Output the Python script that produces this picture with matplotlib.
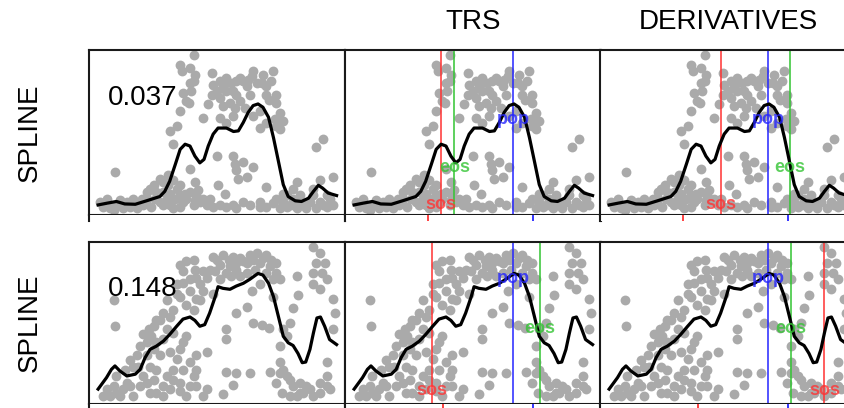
import matplotlib.pyplot as plt

plt.rcParams['font.family'] = ['Liberation Sans', 'DejaVu Sans']

# =========================
# data (day of year, index value)
# =========================
col_titles = ["", "TRS", "DERIVATIVES"]
row_labels = ["SPLINE", "SPLINE"]
row_scores = ["0.037", "0.148"]

# row 1 fitted curve
r1_fit_day = [13, 25, 39, 51, 66, 82, 101, 108, 115, 123, 130, 137, 144, 151, 158, 164,
              170, 177, 184, 196, 206, 213, 220, 227, 234, 241, 248, 256, 263, 270, 277,
              284, 294, 303, 313, 320, 327, 333, 341, 353]
r1_fit_val = [0.061, 0.071, 0.082, 0.067, 0.065, 0.086, 0.112, 0.143, 0.204, 0.306, 0.398,
              0.429, 0.418, 0.357, 0.316, 0.337, 0.418, 0.490, 0.527, 0.527, 0.506, 0.510,
              0.561, 0.622, 0.663, 0.673, 0.653, 0.592, 0.469, 0.327, 0.184, 0.112, 0.086,
              0.082, 0.102, 0.143, 0.180, 0.163, 0.133, 0.118]

# row 1 observations
r1_obs_day = [149, 130, 144, 132, 149, 146, 139, 134, 142, 175, 196, 210, 220, 234, 248, 263,
              246, 225, 210, 196, 182, 187, 201, 215, 229, 253, 256, 267, 272, 265, 244, 244,
              272, 163, 187, 196, 206, 125, 115, 120, 182, 206, 208, 220, 210, 225, 213, 234,
              253, 184, 194, 144, 37, 334, 324, 348, 329, 296, 291, 320,
              16, 20, 30, 39, 49, 58, 68, 77, 82, 87, 92, 101, 106, 96, 111, 115, 125, 130,
              134, 139, 144, 149, 153, 158, 168, 172, 101, 89, 115, 120, 187, 196, 206, 210,
              220, 229, 244, 253, 267, 277, 286, 296, 305, 315, 324, 334, 343, 282, 272, 320,
              291, 301, 339, 73, 35, 156, 130, 106, 113,
              177, 187, 191, 203, 206, 215, 227, 232, 239, 253, 260, 267, 175, 170, 191, 208,
              222, 234, 253, 267, 277, 151, 144, 130,
              25, 44, 54, 63, 75, 94, 106, 113, 123, 130, 137, 151, 163, 177, 244, 263, 282,
              291, 301, 310, 329, 339, 348, 277, 82, 120, 151]
r1_obs_val = [0.97, 0.91, 0.89, 0.87, 0.81, 0.75, 0.69, 0.74, 0.68, 0.86, 0.83, 0.81, 0.81,
              0.87, 0.85, 0.87, 0.80, 0.78, 0.73, 0.75, 0.75, 0.71, 0.68, 0.69, 0.73, 0.73,
              0.70, 0.68, 0.62, 0.58, 0.63, 0.53, 0.52, 0.59, 0.59, 0.56, 0.60, 0.54, 0.51,
              0.43, 0.36, 0.36, 0.31, 0.32, 0.27, 0.23, 0.22, 0.29, 0.17, 0.18, 0.13, 0.28,
              0.26, 0.46, 0.41, 0.23, 0.21, 0.20, 0.16, 0.16,
              0.08, 0.05, 0.04, 0.06, 0.04, 0.05, 0.04, 0.06, 0.10, 0.16, 0.18, 0.22, 0.20,
              0.14, 0.10, 0.06, 0.16, 0.12, 0.08, 0.10, 0.14, 0.06, 0.12, 0.08, 0.06, 0.10,
              0.08, 0.05, 0.13, 0.04, 0.06, 0.05, 0.06, 0.04, 0.08, 0.06, 0.08, 0.05, 0.10,
              0.08, 0.06, 0.04, 0.06, 0.08, 0.04, 0.06, 0.10, 0.12, 0.04, 0.12, 0.10, 0.12,
              0.05, 0.08, 0.03, 0.15, 0.18, 0.14, 0.24,
              0.79, 0.81, 0.78, 0.80, 0.75, 0.83, 0.82, 0.84, 0.80, 0.78, 0.81, 0.73, 0.73,
              0.67, 0.66, 0.65, 0.65, 0.60, 0.56, 0.54, 0.57, 0.85, 0.80, 0.63,
              0.10, 0.09, 0.08, 0.10, 0.10, 0.10, 0.06, 0.18, 0.10, 0.05, 0.13, 0.09, 0.10,
              0.05, 0.05, 0.07, 0.05, 0.06, 0.08, 0.04, 0.08, 0.12, 0.06, 0.13, 0.14, 0.21,
              0.20]

# row 2 fitted curve
r2_fit_day = [13, 25, 32, 37, 44, 54, 66, 73, 80, 87, 96, 106, 115, 125, 134, 144, 151, 158,
              165, 172, 180, 184, 191, 201, 210, 220, 229, 241, 248, 256, 263, 270, 277, 284,
              291, 298, 304, 309, 315, 320, 325, 330, 336, 343, 353]
r2_fit_val = [0.092, 0.163, 0.214, 0.235, 0.204, 0.173, 0.184, 0.214, 0.286, 0.337, 0.357,
              0.388, 0.429, 0.480, 0.524, 0.537, 0.516, 0.480, 0.490, 0.561, 0.663, 0.724,
              0.714, 0.708, 0.728, 0.745, 0.769, 0.806, 0.796, 0.745, 0.663, 0.541, 0.418,
              0.378, 0.361, 0.312, 0.255, 0.259, 0.337, 0.439, 0.531, 0.537, 0.480, 0.398,
              0.367]

# row 2 observations
r2_obs_day = [130, 139, 149, 134, 151, 125, 144, 158, 144, 177, 191, 206, 215, 229, 239, 253,
              267, 187, 201, 210, 225, 244, 258, 267, 196, 215, 272, 172, 168, 163, 158, 177,
              153, 130, 139, 111, 120, 106, 101, 92, 85, 77, 82, 73, 68, 70, 58, 51, 39, 35,
              25, 20, 30, 39, 49, 58, 63, 73, 82, 92, 96, 106, 111, 120, 125, 130, 134, 139,
              101, 115, 106, 96, 87, 115, 130, 144, 149, 153, 168, 168, 163, 139, 130, 153,
              196, 196, 210, 225, 196, 210, 229, 206, 191, 246, 256, 234, 258, 267, 272, 277,
              282, 291, 301, 310, 320, 329, 339, 343, 339, 315, 296, 37, 35, 320, 329, 336,
              332, 320, 329, 348, 351, 296, 298, 291, 286, 277, 348, 263, 244, 232,
              182, 199, 220, 234, 248, 260, 180, 203, 225, 237, 253, 263, 187, 210, 134, 153,
              163, 125, 149, 115, 96, 89, 96, 111, 120, 82, 92, 63, 77, 54, 44, 87, 106, 120,
              144, 134, 153, 272, 286, 305, 329, 286, 301, 339, 275, 272, 282, 324, 339, 320]
r2_obs_val = [0.86, 0.88, 0.89, 0.82, 0.83, 0.74, 0.70, 0.74, 0.77, 0.91, 0.92, 0.91, 0.90,
              0.92, 0.93, 0.92, 0.87, 0.86, 0.85, 0.83, 0.87, 0.87, 0.85, 0.81, 0.81, 0.79,
              0.77, 0.83, 0.78, 0.70, 0.64, 0.68, 0.65, 0.66, 0.61, 0.64, 0.58, 0.56, 0.52,
              0.48, 0.46, 0.43, 0.38, 0.36, 0.30, 0.23, 0.27, 0.21, 0.17, 0.11, 0.09, 0.05,
              0.05, 0.07, 0.09, 0.11, 0.05, 0.11, 0.13, 0.15, 0.07, 0.11, 0.17, 0.21, 0.28,
              0.34, 0.38, 0.42, 0.30, 0.32, 0.40, 0.21, 0.23, 0.09, 0.13, 0.26, 0.17, 0.30,
              0.32, 0.09, 0.05, 0.05, 0.08, 0.11, 0.46, 0.40, 0.56, 0.60, 0.20, 0.19, 0.19,
              0.12, 0.06, 0.49, 0.47, 0.50, 0.20, 0.13, 0.26, 0.21, 0.17, 0.11, 0.07, 0.11,
              0.05, 0.13, 0.11, 0.09, 0.26, 0.09, 0.05, 0.48, 0.64, 0.97, 0.93, 0.87, 0.81,
              0.74, 0.71, 0.65, 0.56, 0.79, 0.67, 0.59, 0.50, 0.46, 0.46, 0.66, 0.74, 0.70,
              0.89, 0.89, 0.88, 0.89, 0.90, 0.89, 0.82, 0.79, 0.81, 0.83, 0.81, 0.77, 0.77,
              0.87, 0.75, 0.78, 0.82, 0.68, 0.58, 0.54, 0.52, 0.42, 0.38, 0.46, 0.44, 0.30,
              0.34, 0.23, 0.17, 0.13, 0.05, 0.07, 0.05, 0.15, 0.11, 0.21, 0.21, 0.19, 0.15,
              0.07, 0.07, 0.05, 0.13, 0.17, 0.07, 0.36, 0.42, 0.87, 0.77, 0.81]

# phenology dates per row: [TRS, DERIVATIVES], each (sos, pop, eos)
pheno_dates = [[(137, 240, 156), (173, 240, 271)],
               [(124, 240, 278), (320, 240, 272)]]
# label heights (sos, pop, eos) per row
label_vals = [(0.061, 0.58, 0.286), (0.082, 0.776, 0.463)]
# dates of next (hidden) row peeking below each row: (sos, pop)
below_dates = [(118, 268), (140, 268)]

fits = [(r1_fit_day, r1_fit_val), (r2_fit_day, r2_fit_val)]
obs = [(r1_obs_day, r1_obs_val), (r2_obs_day, r2_obs_val)]

# =========================
# layout (pixels of 845x408 figure)
# =========================
W, H = 845.0, 408.0
col_left = [89, 345, 600]
col_w = 256
row_top = [50, 242]
row_h = [165, 162]
strip_h = 6

names = ["sos", "pop", "eos"]
colors = {"sos": "#ff3333", "pop": "#2525ff", "eos": "#33c433"}

fig = plt.figure(figsize=(W / 100, H / 100), dpi=100)

for r in range(2):
    for c in range(3):
        left = col_left[c] / W
        bottom = (H - row_top[r] - row_h[r]) / H
        ax = fig.add_axes([left, bottom, col_w / W, row_h[r] / H])
        ax.scatter(obs[r][0], obs[r][1], s=50, color="#aaaaaa", lw=0, zorder=1)
        if c > 0:
            for name, d in zip(names, pheno_dates[r][c - 1]):
                ax.axvline(d, color=colors[name], lw=1.3, alpha=0.85, zorder=2)
        ax.plot(fits[r][0], fits[r][1], color="black", lw=2.3, zorder=3,
                solid_joinstyle="round")
        if c > 0:
            for name, d, v in zip(names, pheno_dates[r][c - 1], label_vals[r]):
                ax.text(d, v, name, color=colors[name], fontsize=13, fontweight="bold",
                        ha="center", va="center", alpha=0.8, zorder=4)
        if c == 0:
            ax.text(0.074, 0.71, row_scores[r], transform=ax.transAxes,
                    fontsize=20, ha="left", va="center")
        ax.set_xlim(0, 365)
        ax.set_ylim(0, 1)
        ax.set_xticks([])
        ax.set_yticks([])
        for sp in ax.spines.values():
            sp.set_linewidth(1.5)
            sp.set_color("#1a1a1a")

        # thin strip of the next row just below
        sb = (H - row_top[r] - row_h[r] - strip_h) / H
        st = fig.add_axes([left, sb, col_w / W, strip_h / H])
        st.set_xlim(0, 365)
        st.set_ylim(0, 1)
        st.set_xticks([])
        st.set_yticks([])
        st.spines["top"].set_visible(False)
        st.spines["bottom"].set_visible(False)
        for side in ["left", "right"]:
            st.spines[side].set_linewidth(1.5)
            st.spines[side].set_color("#1a1a1a")
        if c > 0:
            st.axvline(below_dates[r][0], color=colors["sos"], lw=1.3)
            st.axvline(below_dates[r][1], color=colors["pop"], lw=1.3)

    fig.text(30 / W, 1 - (row_top[r] + row_h[r] / 2) / H, row_labels[r],
             rotation=90, fontsize=20, ha="center", va="center")

for c in range(3):
    if col_titles[c]:
        fig.text((col_left[c] + col_w / 2) / W, 1 - 22 / H, col_titles[c],
                 fontsize=20, ha="center", va="center")

fig.savefig("out.png", dpi=100)
